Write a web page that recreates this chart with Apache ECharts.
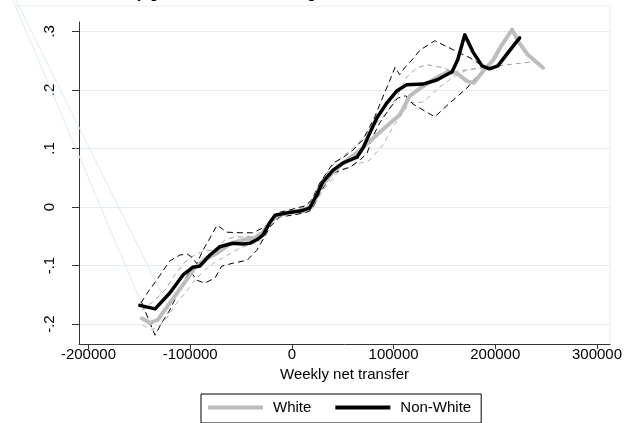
<!DOCTYPE html>
<html>
<head>
<meta charset="utf-8">
<script src="https://cdn.jsdelivr.net/npm/echarts@6/dist/echarts.min.js"></script>
<style>
html,body{margin:0;padding:0;background:#fff;}
#chart{width:630px;height:423px;}
</style>
</head>
<body>
<div id="chart"></div>
<script>
// Tick positions
const xTicks = [-200000, -100000, 0, 100000, 200000, 300000];
const yTicks = [-0.2, -0.1, 0, 0.1, 0.2, 0.3];
const groupNames = ['White', 'Non-White'];

// Smoothed estimate by weekly net transfer: [transfer, estimate]
const white = [
  [-147500,-0.190],[-139500,-0.198],[-132000,-0.193],[-125000,-0.176],[-115000,-0.152],
  [-105000,-0.128],[-95500,-0.104],[-85500,-0.089],[-73500,-0.079],[-61000,-0.063],
  [-48000,-0.056],[-36500,-0.053],[-28500,-0.044],[-21500,-0.026],[-14500,-0.014],
  [-2000,-0.010],[13000,-0.005],[19500,0.003],[27500,0.032],[40500,0.060],
  [52000,0.077],[67000,0.097],[81500,0.120],[94500,0.140],[106000,0.157],
  [116000,0.190],[128000,0.205],[140500,0.219],[153500,0.231],[162000,0.229],
  [172000,0.215],[179000,0.212],[188000,0.232],[197500,0.250],[206500,0.277],
  [216500,0.303],[224000,0.279],[232000,0.260],[247000,0.238]
];
const nonWhite = [
  [-149500,-0.168],[-134500,-0.174],[-120000,-0.147],[-107000,-0.116],[-97500,-0.103],
  [-90500,-0.101],[-80500,-0.082],[-71000,-0.068],[-58000,-0.062],[-48000,-0.063],
  [-41500,-0.062],[-34500,-0.056],[-28500,-0.048],[-21500,-0.026],[-16500,-0.014],
  [-5000,-0.010],[8000,-0.007],[17500,-0.002],[24500,0.021],[30500,0.043],
  [40500,0.063],[50000,0.075],[64000,0.085],[70000,0.101],[76500,0.126],
  [83500,0.152],[93500,0.178],[103000,0.198],[113000,0.209],[129000,0.210],
  [142500,0.217],[157500,0.231],[163000,0.251],[170000,0.294],[178000,0.265],
  [187000,0.241],[194500,0.236],[202500,0.241],[214500,0.268],[224000,0.289]
];

// Confidence bands
const whiteUpper = [
  [-147500,-0.176],[-134500,-0.159],[-125000,-0.142],[-115000,-0.116],[-105000,-0.094],
  [-95500,-0.082],[-85500,-0.074],[-75500,-0.074],[-66000,-0.056],[-56000,-0.051],
  [-46000,-0.051],[-36500,-0.050],[-28500,-0.039],[-21500,-0.022],[-12000,-0.010],
  [0,-0.007],[13000,0.000],[20500,0.012],[27500,0.041],[40500,0.072],
  [52000,0.089],[64000,0.106],[76500,0.132],[93500,0.161],[103000,0.188],
  [113000,0.222],[123000,0.238],[133000,0.243],[148500,0.238],[158500,0.231],
  [192000,0.239],[237000,0.248]
];
const whiteLower = [
  [-146500,-0.202],[-137500,-0.210],[-130000,-0.202],[-123000,-0.190],[-115000,-0.168],
  [-105000,-0.147],[-95500,-0.125],[-85500,-0.108],[-75500,-0.094],[-63000,-0.082],
  [-51000,-0.070],[-36500,-0.062],[-28500,-0.056],[-21500,-0.032],[-12000,-0.015],
  [0,-0.012],[13000,-0.009],[20500,-0.002],[29500,0.026],[47000,0.063],
  [67000,0.075],[76500,0.080],[89500,0.106],[99500,0.137],[111000,0.166],
  [116000,0.178],[129000,0.179],[145500,0.205],[158500,0.222],[172000,0.234],
  [192000,0.239]
];
const nonWhiteUpper = [
  [-148500,-0.164],[-141500,-0.145],[-133000,-0.125],[-120000,-0.092],[-110000,-0.082],
  [-103000,-0.080],[-97500,-0.087],[-93500,-0.097],[-87500,-0.074],[-80500,-0.053],
  [-73500,-0.031],[-64000,-0.043],[-51000,-0.044],[-38500,-0.044],[-26500,-0.034],
  [-19500,-0.019],[-12000,-0.009],[0,-0.004],[13000,0.002],[19500,0.012],
  [27500,0.041],[40500,0.075],[50000,0.084],[60000,0.097],[70000,0.115],
  [81500,0.154],[89500,0.188],[96500,0.217],[101500,0.239],[106000,0.226],
  [111000,0.238],[118000,0.251],[126000,0.268],[140500,0.284],[152500,0.274],
  [165000,0.263],[175000,0.255],[183000,0.246],[192000,0.238]
];
const nonWhiteLower = [
  [-147500,-0.164],[-134500,-0.219],[-128000,-0.198],[-120000,-0.176],[-112000,-0.147],
  [-105000,-0.123],[-100000,-0.109],[-93500,-0.125],[-85500,-0.130],[-75500,-0.121],
  [-69000,-0.101],[-58000,-0.096],[-44000,-0.091],[-34500,-0.074],[-28500,-0.056],
  [-21500,-0.034],[-12000,-0.017],[0,-0.014],[13000,-0.010],[19500,-0.005],
  [27500,0.024],[40500,0.058],[57000,0.068],[67000,0.080],[74000,0.092],
  [79500,0.120],[86500,0.144],[96500,0.169],[104000,0.186],[112000,0.190],
  [119000,0.176],[140500,0.154],[155500,0.178],[172000,0.203],[185000,0.229],
  [192000,0.238]
];

// Two faint connector strokes running in from the upper left
const faintA = [[-276300,0.362],[-134500,-0.219]];
const faintB = [[-273800,0.362],[-120000,-0.176]];

const FONT = "'Liberation Sans', Arial, Helvetica, sans-serif";

// Plot area and its value extent; a second, hidden full-canvas grid uses the
// same scale so strokes that start outside the plot area are still drawn.
const PLOT = { left: 79, right: 20, top: 22, bottom: 79, w: 630, h: 423 };
const X_MIN = -209300, X_MAX = 312800;
const Y_MIN = -0.234, Y_MAX = 0.316;
const pxPerX = (PLOT.w - PLOT.left - PLOT.right) / (X_MAX - X_MIN);
const pxPerY = (PLOT.h - PLOT.top - PLOT.bottom) / (Y_MAX - Y_MIN);
const full = {
  xMin: X_MIN - PLOT.left / pxPerX,
  xMax: X_MAX + PLOT.right / pxPerX,
  yMin: Y_MIN - PLOT.bottom / pxPerY,
  yMax: Y_MAX + PLOT.top / pxPerY
};

function yFmt(v) {
  const r = Math.round(v * 10) / 10;
  if (Math.abs(r) < 1e-9) return '0';
  return String(r).replace('0.', '.');
}

function band(data, color, dash) {
  return {
    type: 'line', data: data, showSymbol: false, silent: true,
    lineStyle: { color: color, width: 1, type: dash },
    z: 2
  };
}

const chart = echarts.init(document.getElementById('chart'), null, { renderer: 'canvas' });
chart.setOption({
  animation: false,
  backgroundColor: '#ffffff',
  textStyle: { fontFamily: FONT },
  grid: [
    { left: PLOT.left, right: PLOT.right, top: PLOT.top, bottom: PLOT.bottom,
      containLabel: false, outerBoundsMode: 'none' },
    { left: 0, right: 0, top: 0, bottom: 0, containLabel: false, outerBoundsMode: 'none' }
  ],
  legend: {
    data: [{ name: groupNames[0], icon: 'rect' }, { name: groupNames[1], icon: 'rect' }],
    left: 201, top: 394, orient: 'horizontal',
    itemWidth: 55, itemHeight: 4, itemGap: 24,
    padding: [6, 10, 8, 7],
    borderColor: '#000', borderWidth: 1,
    selectedMode: false,
    textStyle: { fontSize: 15, color: '#000', fontFamily: FONT, padding: [0, 0, 0, 5] }
  },
  graphic: [
    {
      type: 'polyline', silent: true, z: -1,
      shape: { points: [[16, 6], [610, 6], [610, 344]] },
      style: { stroke: '#e9f0f0', lineWidth: 1, fill: null }
    },
    {
      type: 'text', left: 93, top: -14, silent: true,
      style: { text: 'Weekly gain in total net earnings', fontSize: 16, fontFamily: FONT, fill: '#000' }
    }
  ],
  xAxis: [
    {
      type: 'value', gridIndex: 0, min: X_MIN, max: X_MAX,
      name: 'Weekly net transfer', nameLocation: 'middle', nameGap: 19,
      nameTextStyle: { fontSize: 15, color: '#000', fontFamily: FONT },
      axisLine: { show: true, onZero: false, lineStyle: { color: '#333', width: 1 } },
      axisTick: { show: true, customValues: xTicks, length: 5, lineStyle: { color: '#333' } },
      axisLabel: { customValues: xTicks, fontSize: 15, color: '#000', margin: 3, fontFamily: FONT,
                   formatter: v => String(v) },
      splitLine: { show: false }
    },
    { type: 'value', gridIndex: 1, min: full.xMin, max: full.xMax, show: false }
  ],
  yAxis: [
    {
      type: 'value', gridIndex: 0, min: Y_MIN, max: Y_MAX,
      axisLine: { show: true, onZero: false, lineStyle: { color: '#333', width: 1 } },
      axisTick: { show: true, customValues: yTicks, length: 7, lineStyle: { color: '#333' } },
      axisLabel: { customValues: yTicks, rotate: 90, fontSize: 15, color: '#000', margin: 22,
                   fontFamily: FONT, formatter: yFmt },
      splitLine: { show: true, lineStyle: { color: '#e4eded', width: 1 } }
    },
    { type: 'value', gridIndex: 1, min: full.yMin, max: full.yMax, show: false }
  ],
  series: [
    { type: 'line', data: faintA, xAxisIndex: 1, yAxisIndex: 1, showSymbol: false, silent: true,
      lineStyle: { color: '#dcecec', width: 1 }, z: 1 },
    { type: 'line', data: faintB, xAxisIndex: 1, yAxisIndex: 1, showSymbol: false, silent: true,
      lineStyle: { color: '#dcecec', width: 1 }, z: 1 },
    band(whiteUpper, '#a0a0a0', [5, 4]),
    band(whiteLower, '#b0b0b0', [5, 4]),
    band(nonWhiteUpper, '#000000', [6, 4]),
    band(nonWhiteLower, '#000000', [6, 4]),
    { name: groupNames[0], type: 'line', data: white, showSymbol: false, color: '#bdbdbd',
      lineStyle: { color: '#bdbdbd', width: 4, cap: 'round', join: 'round' }, z: 3 },
    { name: groupNames[1], type: 'line', data: nonWhite, showSymbol: false, color: '#000000',
      lineStyle: { color: '#000000', width: 3.5, cap: 'round', join: 'round' }, z: 4 }
  ]
});
</script>
</body>
</html>
